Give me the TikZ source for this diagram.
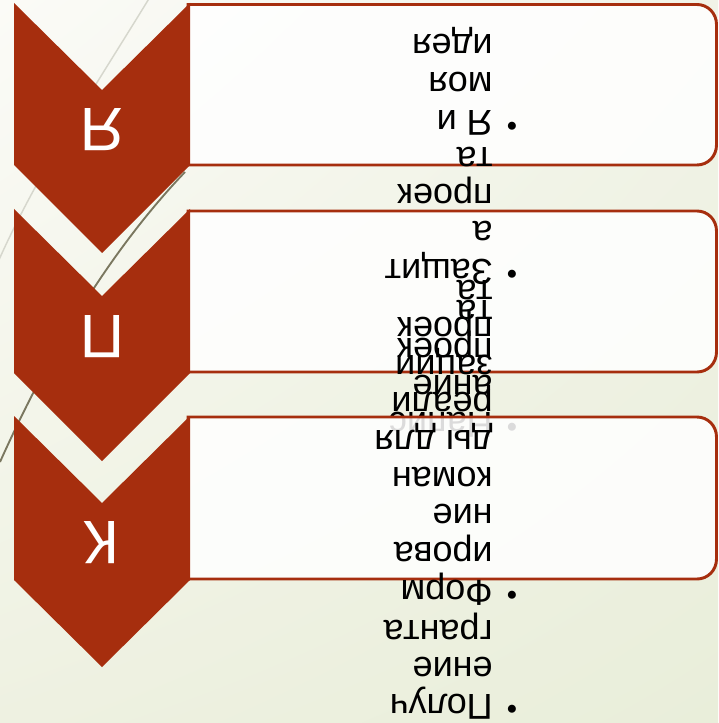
\documentclass[tikz,border=0pt]{standalone}
\usepackage{fontspec}
\setmainfont{Liberation Sans}
\usetikzlibrary{shadings}
\definecolor{rust}{RGB}{166,46,14}
\definecolor{bgUL}{RGB}{251,251,247}
\definecolor{bgUR}{RGB}{241,243,231}
\definecolor{bgLL}{RGB}{238,241,225}
\definecolor{bgLR}{RGB}{233,238,218}
\definecolor{lineLight}{RGB}{214,215,205}
\definecolor{lineDark}{RGB}{122,119,95}
\begin{document}
\begin{tikzpicture}[x=0.75pt,y=-0.75pt,
  chev/.style={fill=rust,draw=none},
  itembox/.style={draw=rust,line width=2.2pt,fill=white,fill opacity=0.86},
  txt/.style={rotate=180,anchor=base west,inner sep=0pt,font=\fontsize{27}{32}\selectfont,text=black},
  bul/.style={rotate=180,inner sep=0pt,font=\fontsize{22}{26}\selectfont,text=black},
  letter/.style={rotate=180,inner sep=0pt,text=white,font=\fontsize{46}{50}\selectfont}
]
\useasboundingbox (0,0) rectangle (718,723);
\clip (0,0) rectangle (718,723);
\shade[upper left=bgUL,upper right=bgUR,lower left=bgLL,lower right=bgLR] (0,0) rectangle (718,723);
% decorative lines
\draw[lineLight,line width=1.1pt] (150,-3) .. controls (95,87) and (38,172) .. (-2,262);
\draw[lineDark,line width=1.4pt] (185,172) .. controls (105,256) and (45,362) .. (0,462);

% box 1 (top)
\draw[itembox] (188,4.5) -- (697,4.5) .. controls (708,4.5) and (716.5,13.5) .. (716.5,24.5) -- (716.5,145) .. controls (716.5,156) and (708,165) .. (697,165) -- (188,165) -- cycle;
\node[bul] (b1a) at (512,123) {•};
\node[txt] (t1a) at (493,111) {Я и};
\node[txt] (t1b) at (493,73) {моя};
\node[txt] (t1c) at (493,35) {идея};

% box 2 (middle)
\draw[itembox] (188,211) -- (697,211) .. controls (708,211) and (716.5,220) .. (716.5,231) -- (716.5,352) .. controls (716.5,363) and (708,372) .. (697,372) -- (188,372) -- cycle;
\node[bul] (b2a) at (512,424) {•};
\node[txt] (t2a) at (493,412) {Напис};
\node[txt] (t2b) at (493,375) {ание};
\node[txt] (t2c) at (493,338) {проек};
\node[txt] (t2d) at (493,300) {та};
\node[bul] (b2b) at (512,271) {•};
\node[txt] (t2e) at (493,259) {Защит};
\node[txt] (t2f) at (493,222) {а};
\node[txt] (t2g) at (493,185) {проек};
\node[txt] (t2h) at (493,148) {та};

% box 3 (bottom)
\draw[itembox] (188,417) -- (697,417) .. controls (708,417) and (716.5,426) .. (716.5,437) -- (716.5,559) .. controls (716.5,570) and (708,579) .. (697,579) -- (188,579) -- cycle;
\node[bul] (b3a) at (512,706) {•};
\node[txt] (t3a) at (493,694) {Получ};
\node[txt] (t3b) at (493,657) {ение};
\node[txt] (t3c) at (493,620) {гранта};
\node[bul] (b3b) at (512,592) {•};
\node[txt] (t3d) at (493,580) {Форм};
\node[txt] (t3e) at (493,542) {ирова};
\node[txt] (t3f) at (493,504) {ние};
\node[txt] (t3g) at (493,467) {коман};
\node[txt] (t3h) at (493,430) {ды для};
\node[txt] (t3i) at (493,392) {реали};
\node[txt] (t3j) at (493,355) {зации};
\node[txt] (t3k) at (493,317) {проек};
\node[txt] (t3l) at (493,280) {та};

% chevrons
\fill[chev] (14,3) -- (102,90) -- (190,3) -- (190,165) -- (102,253) -- (14,165) -- cycle;
\fill[chev] (14,209) -- (102,296) -- (190,209) -- (190,373) -- (102,461) -- (14,373) -- cycle;
\fill[chev] (14,416) -- (102,503) -- (190,416) -- (190,580) -- (102,667) -- (14,580) -- cycle;
\node[letter] (c1) at (102,130) {Я};
\node[letter] (c2) at (102,337) {П};
\node[letter] (c3) at (102,543) {К};
\end{tikzpicture}
\end{document}
